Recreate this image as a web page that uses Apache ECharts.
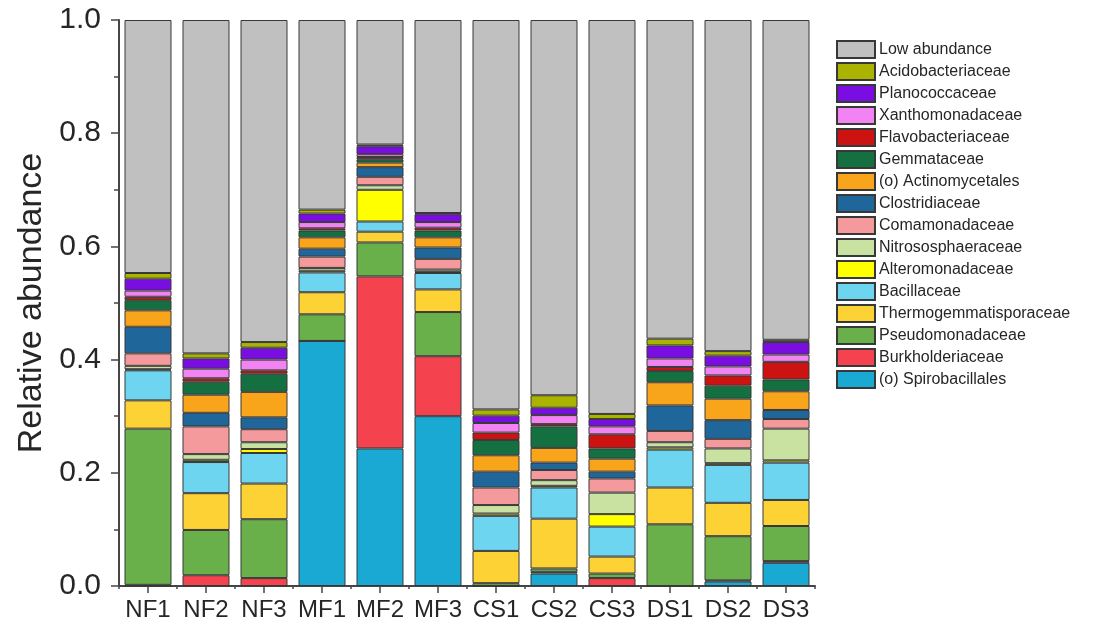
<!DOCTYPE html>
<html>
<head>
<meta charset="utf-8">
<title>Relative abundance</title>
<script src="https://cdn.jsdelivr.net/npm/echarts@6/dist/echarts.min.js"></script>
<style>
  html, body { margin: 0; padding: 0; background: #ffffff; }
  #chart { width: 1094px; height: 637px; }
</style>
</head>
<body>
<div id="chart"></div>
<script>
// Samples along the x axis
const samples = ['NF1', 'NF2', 'NF3', 'MF1', 'MF2', 'MF3', 'CS1', 'CS2', 'CS3', 'DS1', 'DS2', 'DS3'];

// Y axis tick labels
const yTicks = ['0.0', '0.2', '0.4', '0.6', '0.8', '1.0'];

// Relative abundance per family, one value per sample (stacked bottom to top)
const spirobacillales    = [0, 0, 0, 0.433, 0.243, 0.300, 0, 0.022, 0, 0, 0.008, 0.041];
const burkholderiaceae   = [0.002, 0.019, 0.014, 0, 0.304, 0.106, 0, 0.003, 0.014, 0, 0.002, 0.003];
const pseudomonadaceae   = [0.276, 0.080, 0.104, 0.047, 0.060, 0.078, 0.005, 0.006, 0.008, 0.109, 0.078, 0.062];
const thermogemmatisporaceae = [0.050, 0.065, 0.063, 0.039, 0.019, 0.040, 0.057, 0.088, 0.030, 0.065, 0.059, 0.046];
const bacillaceae        = [0.053, 0.055, 0.054, 0.035, 0.018, 0.029, 0.062, 0.055, 0.053, 0.067, 0.067, 0.066];
const alteromonadaceae   = [0.002, 0.004, 0.007, 0.003, 0.056, 0.002, 0.004, 0.003, 0.022, 0.004, 0.003, 0.004];
const nitrososphaeraceae = [0.006, 0.010, 0.012, 0.005, 0.008, 0.004, 0.015, 0.010, 0.038, 0.009, 0.026, 0.056];
const comamonadaceae     = [0.022, 0.049, 0.023, 0.020, 0.015, 0.019, 0.031, 0.018, 0.025, 0.020, 0.017, 0.017];
const clostridiaceae     = [0.047, 0.024, 0.021, 0.014, 0.017, 0.020, 0.028, 0.013, 0.012, 0.045, 0.033, 0.016];
const actinomycetales    = [0.029, 0.032, 0.045, 0.020, 0.008, 0.018, 0.029, 0.026, 0.023, 0.041, 0.038, 0.033];
const gemmataceae        = [0.018, 0.023, 0.032, 0.012, 0.006, 0.012, 0.027, 0.038, 0.018, 0.020, 0.023, 0.021];
const flavobacteriaceae  = [0.006, 0.006, 0.006, 0.004, 0.004, 0.005, 0.013, 0.004, 0.025, 0.007, 0.018, 0.031];
const xanthomonadaceae   = [0.011, 0.017, 0.019, 0.011, 0.005, 0.010, 0.017, 0.016, 0.014, 0.015, 0.016, 0.013];
const planococcaceae     = [0.021, 0.018, 0.021, 0.015, 0.014, 0.014, 0.013, 0.013, 0.013, 0.023, 0.019, 0.022];
const acidobacteriaceae  = [0.010, 0.009, 0.010, 0.007, 0.003, 0.002, 0.011, 0.022, 0.009, 0.012, 0.008, 0.004];
const lowAbundance       = [0.447, 0.589, 0.569, 0.335, 0.220, 0.341, 0.688, 0.663, 0.696, 0.563, 0.585, 0.565];

// Series definitions, bottom of the stack first
const families = [
  { name: '(o) Spirobacillales',   data: spirobacillales,    color: '#19a9d3' },
  { name: 'Burkholderiaceae',      data: burkholderiaceae,   color: '#f4424f' },
  { name: 'Pseudomonadaceae',      data: pseudomonadaceae,   color: '#69b04a' },
  { name: 'Thermogemmatisporaceae',data: thermogemmatisporaceae, color: '#fdd234' },
  { name: 'Bacillaceae',           data: bacillaceae,        color: '#6dd5ef' },
  { name: 'Alteromonadaceae',      data: alteromonadaceae,   color: '#ffff00' },
  { name: 'Nitrososphaeraceae',    data: nitrososphaeraceae, color: '#c9e2a2' },
  { name: 'Comamonadaceae',        data: comamonadaceae,     color: '#f49a9c' },
  { name: 'Clostridiaceae',        data: clostridiaceae,     color: '#1f679b' },
  { name: '(o) Actinomycetales',   data: actinomycetales,    color: '#f9a51c' },
  { name: 'Gemmataceae',           data: gemmataceae,        color: '#147041' },
  { name: 'Flavobacteriaceae',     data: flavobacteriaceae,  color: '#cd1212' },
  { name: 'Xanthomonadaceae',      data: xanthomonadaceae,   color: '#f283f3' },
  { name: 'Planococcaceae',        data: planococcaceae,     color: '#7a0ee2' },
  { name: 'Acidobacteriaceae',     data: acidobacteriaceae,  color: '#a9b300' },
  { name: 'Low abundance',         data: lowAbundance,       color: '#c0c0c0' }
];

const textColor = '#262626';
const axisColor = '#454545';
const fontFamily = '"Liberation Sans", Arial, sans-serif';

const chart = echarts.init(document.getElementById('chart'), null, { renderer: 'canvas' });

const option = {
  backgroundColor: '#ffffff',
  animation: false,
  textStyle: { fontFamily: fontFamily, color: textColor },
  grid: { left: 119, right: 279, top: 20, bottom: 51, containLabel: false },
  legend: {
    orient: 'vertical',
    left: 836,
    top: 40,
    padding: 0,
    icon: 'rect',
    itemWidth: 38,
    itemHeight: 17,
    itemGap: 3,
    data: families.map(f => f.name).reverse(),
    textStyle: { fontSize: 16, lineHeight: 17, color: textColor, padding: [0, 0, 0, -1] }
  },
  xAxis: [
    {
      type: 'category',
      data: samples,
      axisLine: { show: true, lineStyle: { color: axisColor, width: 2 } },
      axisTick: { show: true, alignWithLabel: true, length: 7, lineStyle: { color: axisColor, width: 1.5 } },
      axisLabel: { fontSize: 24, color: textColor, margin: 12, interval: 0 }
    },
    {
      // boundary ticks between samples
      type: 'category',
      data: samples,
      position: 'bottom',
      axisLine: { show: false },
      axisTick: { show: true, length: 3, lineStyle: { color: axisColor, width: 1.5 } },
      axisLabel: { show: false }
    }
  ],
  yAxis: {
    type: 'value',
    min: 0,
    max: 1,
    interval: 0.2,
    name: 'Relative abundance',
    nameLocation: 'middle',
    nameGap: 70,
    nameTextStyle: { fontSize: 34, color: textColor },
    axisLine: { show: true, lineStyle: { color: axisColor, width: 2 } },
    axisTick: { show: true, length: 8, lineStyle: { color: axisColor, width: 1.5 } },
    minorTick: { show: true, splitNumber: 2, length: 5, lineStyle: { color: axisColor, width: 1.5 } },
    splitLine: { show: false },
    axisLabel: {
      fontSize: 30,
      color: textColor,
      margin: 18,
      formatter: v => yTicks[Math.round(v / 0.2)]
    }
  },
  series: families.map(f => ({
    name: f.name,
    type: 'bar',
    stack: 'abundance',
    xAxisIndex: 0,
    barWidth: 47,
    data: f.data,
    itemStyle: { color: f.color, borderColor: '#383838', borderWidth: 1 },
    emphasis: { disabled: true }
  }))
};

chart.setOption(option);
</script>
</body>
</html>
